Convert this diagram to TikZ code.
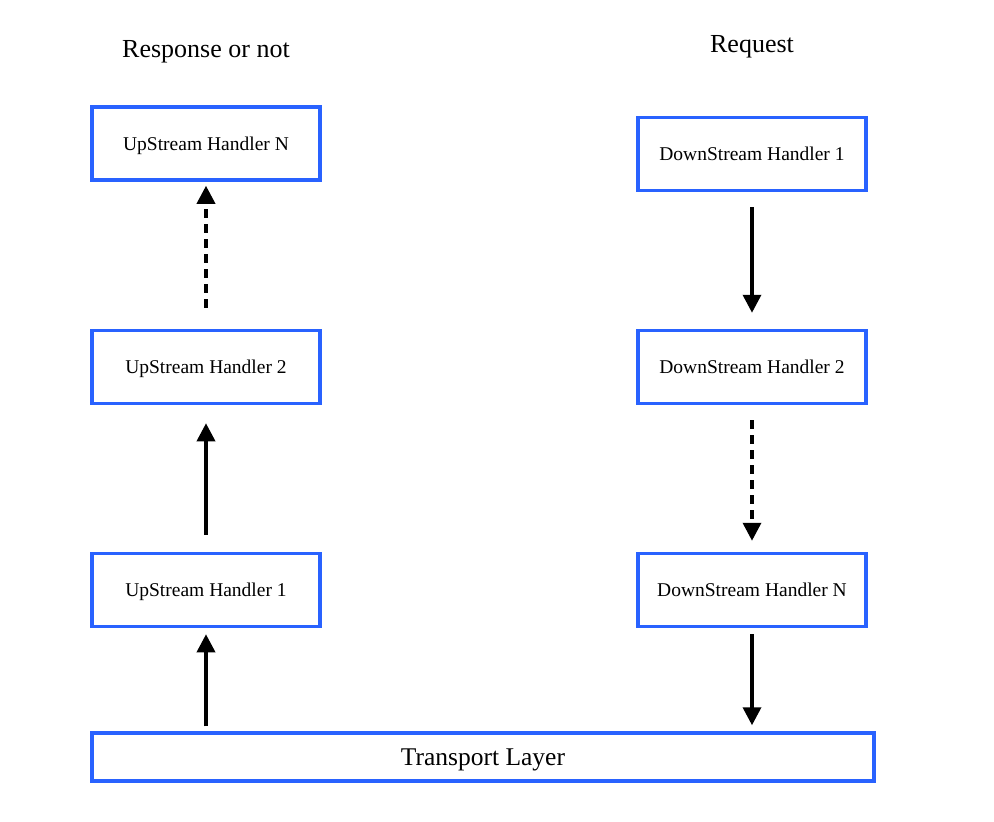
\documentclass[tikz,border=0pt]{standalone}
\usepackage{fontspec}
\setmainfont{Liberation Serif}
\usetikzlibrary{arrows.meta}
\definecolor{handlerblue}{RGB}{41,98,255}
\tikzset{
  handler/.style={draw=handlerblue,line width=3.5pt,minimum width=228pt,minimum height=73pt,inner sep=0pt,text depth=0pt,font=\fontsize{19.5}{23}\selectfont},
  flow/.style={line width=3.5pt,-{Triangle[width=18pt,length=18pt]}},
  dotflow/.style={flow,dash pattern=on 9pt off 6pt}
}
\begin{document}
\begin{tikzpicture}[x=1pt,y=-1pt]
  \useasboundingbox (0,0) rectangle (994,822);
  \node[font=\fontsize{26}{30}\selectfont] (resp) at (206,52) {Response or not};
  \node[font=\fontsize{26}{30}\selectfont] (req) at (752,47) {Request};
  \node[handler] (upN) at (206,143.5) {UpStream Handler N};
  \node[handler] (up2) at (206,367) {UpStream Handler 2};
  \node[handler] (up1) at (206,590) {UpStream Handler 1};
  \node[handler] (down1) at (752,154) {DownStream Handler 1};
  \node[handler] (down2) at (752,367) {DownStream Handler 2};
  \node[handler] (downN) at (752,590) {DownStream Handler N};
  \node[handler,minimum width=782pt,minimum height=48pt,font=\fontsize{25.5}{30}\selectfont] (transport) at (483,757) {Transport Layer};
  \draw[flow,shorten <=5pt,shorten >=6pt] (transport.north -| up1) -- (up1.south);
  \draw[flow,shorten <=17pt,shorten >=18pt] (up1.north) -- (up2.south);
  \draw[dotflow,shorten <=21pt,shorten >=4pt] (up2.north) -- (upN.south);
  \draw[flow,shorten <=15pt,shorten >=16pt] (down1.south) -- (down2.north);
  \draw[dotflow,shorten <=15pt,shorten >=11pt] (down2.south) -- (downN.north);
  \draw[flow,shorten <=6pt,shorten >=6pt] (downN.south) -- (transport.north -| downN);
\end{tikzpicture}
\end{document}
